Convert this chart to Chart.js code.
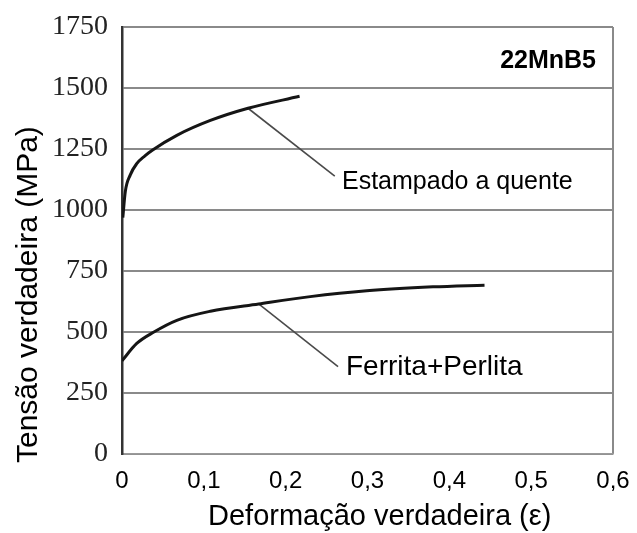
<!DOCTYPE html>
<html>
<head>
<meta charset="utf-8">
<script src="https://cdn.jsdelivr.net/npm/chart.js@4.4.1/dist/chart.umd.min.js"></script>
<style>
  html, body { margin: 0; padding: 0; background: #fff; }
  #wrap { width: 637px; height: 533px; position: relative; }
</style>
</head>
<body>
<div id="wrap"><canvas id="curveChart"></canvas></div>
<script>
// values
const hotStrain = [0.001, 0.004, 0.010, 0.018, 0.028, 0.037, 0.067, 0.108, 0.154, 0.217];
const hotStress = [969, 1075, 1143, 1190, 1222, 1245, 1306, 1367, 1417, 1466];

const ferStrain = [0, 0.018, 0.039, 0.067, 0.108, 0.167, 0.230, 0.299, 0.380, 0.443];
const ferStress = [382, 453, 500, 548, 585, 615, 645, 669, 685, 692];

// leader lines from curve to label
const hotLeaderStrain = [0.154, 0.260];
const hotLeaderStress = [1417, 1139];
const ferLeaderStrain = [0.167, 0.264];
const ferLeaderStress = [615, 358];

const xTickLabels = ['0', '0,1', '0,2', '0,3', '0,4', '0,5', '0,6'];
const yTickLabels = ['0', '250', '500', '750', '1000', '1250', '1500', '1750'];

const seriesNames = ['Estampado a quente', 'Ferrita+Perlita'];
const steelName = '22MnB5';
const xTitle = 'Deformação verdadeira (ε)';
const yTitle = 'Tensão verdadeira (MPa)';

const pts = (xs, ys) => xs.map((x, i) => ({ x: x, y: ys[i] }));

const textPlugin = {
    id: 'texts',
    afterDraw(chart) {
        const c = chart.ctx;
        const a = chart.chartArea;
        c.save();
        c.fillStyle = '#000';
        c.textBaseline = 'alphabetic';

        // annotations
        c.font = 'bold 25px "Liberation Sans", Arial, sans-serif';
        c.textAlign = 'right';
        c.fillText(steelName, a.right - 17, 68);

        c.font = '25px "Liberation Sans", Arial, sans-serif';
        c.textAlign = 'left';
        c.fillText(seriesNames[0], 342, 189);

        c.font = '28px "Liberation Sans", Arial, sans-serif';
        c.fillText(seriesNames[1], 346, 375);

        // axis titles
        c.font = '29px "Liberation Sans", Arial, sans-serif';
        c.textAlign = 'left';
        c.fillText(xTitle, 208, 525);

        c.font = '30px "Liberation Sans", Arial, sans-serif';
        c.translate(37, 463);
        c.rotate(-Math.PI / 2);
        c.fillText(yTitle, 0, 0);
        c.restore();
    }
};

document.addEventListener('DOMContentLoaded', () => {
    const ctx = document.getElementById('curveChart').getContext('2d');
    const curve = { borderColor: '#151515', borderWidth: 3, pointRadius: 0, showLine: true, cubicInterpolationMode: 'monotone', fill: false };
    const leader = { borderColor: '#4a4a4a', borderWidth: 1.6, pointRadius: 0, showLine: true, fill: false };

    new Chart(ctx, {
        type: 'scatter',
        data: {
            datasets: [
                { label: seriesNames[0], data: pts(hotStrain, hotStress), ...curve },
                { label: seriesNames[1], data: pts(ferStrain, ferStress), ...curve },
                { label: 'l1', data: pts(hotLeaderStrain, hotLeaderStress), ...leader },
                { label: 'l2', data: pts(ferLeaderStrain, ferLeaderStress), ...leader }
            ]
        },
        options: {
            responsive: true,
            maintainAspectRatio: false,
            animation: false,
            layout: { padding: { top: 27, right: 24, left: 0, bottom: 0 } },
            plugins: { legend: { display: false }, tooltip: { enabled: false } },
            scales: {
                x: {
                    type: 'linear',
                    min: 0, max: 0.6,
                    afterFit: s => { s.height = 79; s.paddingLeft = 0; s.paddingRight = 0; },
                    ticks: {
                        stepSize: 0.1,
                        padding: 13,
                        color: '#000',
                        font: { family: '"Liberation Sans", Arial, sans-serif', size: 24 },
                        callback: (v, i) => xTickLabels[i]
                    },
                    grid: {
                        drawTicks: false,
                        lineWidth: 2,
                        color: c => Math.abs(c.tick.value - 0.6) < 1e-9 ? '#8a8a8a' : 'rgba(0,0,0,0)'
                    },
                    border: { display: true, color: '#9a9a9a', width: 1.5 }
                },
                y: {
                    min: 0, max: 1750,
                    afterFit: s => { s.width = 122; s.paddingTop = 0; s.paddingBottom = 0; },
                    ticks: {
                        stepSize: 250,
                        padding: 14,
                        color: '#222',
                        font: { family: '"Liberation Serif", "Times New Roman", serif', size: 28 },
                        callback: (v, i) => yTickLabels[i]
                    },
                    grid: { drawTicks: false, color: '#8a8a8a', lineWidth: 2 },
                    border: { display: true, color: '#333', width: 2.5 }
                }
            }
        },
        plugins: [textPlugin]
    });
});
</script>
</body>
</html>
